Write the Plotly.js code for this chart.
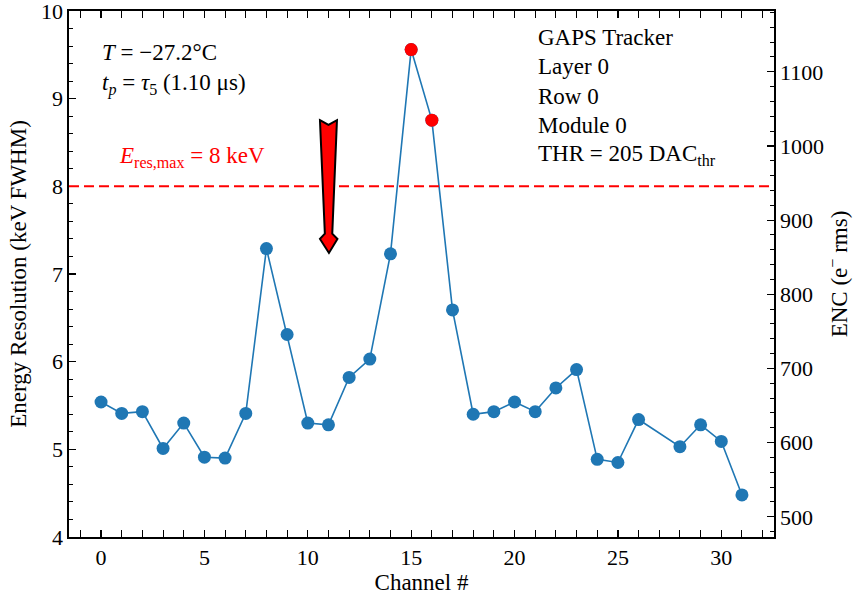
<!DOCTYPE html>
<html>
<head>
<meta charset="utf-8">
<script src="https://cdn.plot.ly/plotly-3.0.1.min.js"></script>
<style>html,body{margin:0;padding:0;background:#fff;}#chart{width:858px;height:597px;}</style>
</head>
<body>
<div id="chart"></div>
<script>
// Channel numbers (channel 27 has no data)
const channels = [0,1,2,3,4,5,6,7,8,9,10,11,12,13,14,15,16,17,18,19,20,21,22,23,24,25,26,28,29,30,31];
// Energy resolution, keV FWHM
const resolution = [5.54,5.41,5.43,5.01,5.30,4.91,4.90,5.41,7.29,6.31,5.30,5.28,5.82,6.03,7.23,9.56,8.755,6.59,5.40,5.43,5.54,5.43,5.70,5.91,4.886,4.85,5.34,5.03,5.28,5.09,4.48];
const eResMax = 8;           // keV threshold
const encPerKeV = 118.2;     // e- rms per keV FWHM
const arrowChannel = 11;
const xTickVals = [0,5,10,15,20,25,30];

const hiX = [], hiY = [];
channels.forEach((c,i)=>{ if (resolution[i] > eResMax) { hiX.push(c); hiY.push(resolution[i]); } });
const enc = resolution.map(v => v*encPerKeV);

const blue = '#1f77b4';
const fam = '"Liberation Serif", "DejaVu Serif", serif';
const font = {family:fam, size:23, color:'#000'};
const tickFont = {family:fam, size:22, color:'#000'};

const traces = [
  {x:channels, y:resolution, type:'scatter', mode:'lines+markers',
   line:{color:blue, width:1.6}, marker:{color:blue, size:13}, showlegend:false, hoverinfo:'skip'},
  {x:hiX, y:hiY, type:'scatter', mode:'markers',
   marker:{color:'#ff0000', size:13}, showlegend:false, hoverinfo:'skip'},
  {x:channels, y:enc, type:'scatter', mode:'markers', yaxis:'y2',
   marker:{opacity:0, size:1}, showlegend:false, hoverinfo:'skip'}
];

const axCommon = {showline:true, linecolor:'#000', linewidth:1.6, ticks:'inside', ticklen:7, tickwidth:1.2,
  tickcolor:'#000', showgrid:false, zeroline:false, tickfont:tickFont, ticklabeloverflow:'allow'};

const layout = {
  width:858, height:597,
  margin:{l:69, r:84, t:11, b:60},
  paper_bgcolor:'#fff', plot_bgcolor:'#fff',
  font:font,
  xaxis: Object.assign({}, axCommon, {range:[-1.55, 32.55], tickvals:xTickVals, mirror:'allticks',
    minor:{ticks:'inside', dtick:1, tick0:0, ticklen:4, tickwidth:1, tickcolor:'#000'},
    title:{text:'Channel #', font:font, standoff:4}}),
  yaxis: Object.assign({}, axCommon, {range:[4,10], dtick:1, tick0:0,
    minor:{ticks:'inside', dtick:0.2, tick0:0, ticklen:4, tickwidth:1, tickcolor:'#000'},
    title:{text:'Energy Resolution (keV FWHM)', font:font, standoff:8}}),
  yaxis2: Object.assign({}, axCommon, {range:[4*encPerKeV, 10*encPerKeV], overlaying:'y', side:'right',
    dtick:100, tick0:0,
    minor:{ticks:'inside', dtick:20, tick0:0, ticklen:4, tickwidth:1, tickcolor:'#000'},
    title:{text:'ENC (e<sup>−</sup> rms)', font:font, standoff:8}}),
  shapes:[
    {type:'line', xref:'paper', x0:0, x1:1, yref:'y', y0:eResMax, y1:eResMax,
     line:{color:'#ff0000', width:2, dash:'10px,5px'}},
    {type:'path', xref:'x', xsizemode:'pixel', xanchor:arrowChannel, yref:'y',
     path:'M -8.5,8.755 L 0,8.70 L 8.5,8.755 L 3.8,7.46 L 9,7.40 L 0.5,7.24 L -8.5,7.40 L -3.6,7.46 Z',
     fillcolor:'#ff0000', line:{color:'#000', width:2}}
  ],
  annotations:[
    {xref:'paper', yref:'paper', x:0.044, y:0.922, xanchor:'left', yanchor:'middle', showarrow:false,
     text:'<i>T</i> = −27.2°C', font:font},
    {xref:'paper', yref:'paper', x:0.044, y:0.861, xanchor:'left', yanchor:'middle', showarrow:false,
     text:'<i>t<sub>p</sub></i> = <i>τ</i><sub>5</sub> (1.10 μs)', font:font},
    {xref:'paper', yref:'paper', x:0.174, y:0.722, xanchor:'center', yanchor:'middle', showarrow:false,
     text:'<i>E</i><sub>res,max</sub> = 8 keV', font:Object.assign({}, font, {color:'#ff0000'})},
    {xref:'paper', yref:'paper', x:0.662, y:0.949, xanchor:'left', yanchor:'middle', showarrow:false, text:'GAPS Tracker', font:font},
    {xref:'paper', yref:'paper', x:0.662, y:0.894, xanchor:'left', yanchor:'middle', showarrow:false, text:'Layer 0', font:font},
    {xref:'paper', yref:'paper', x:0.662, y:0.838, xanchor:'left', yanchor:'middle', showarrow:false, text:'Row 0', font:font},
    {xref:'paper', yref:'paper', x:0.662, y:0.783, xanchor:'left', yanchor:'middle', showarrow:false, text:'Module 0', font:font},
    {xref:'paper', yref:'paper', x:0.662, y:0.726, xanchor:'left', yanchor:'middle', showarrow:false, text:'THR = 205 DAC<sub>thr</sub>', font:font}
  ]
};

Plotly.newPlot('chart', traces, layout, {staticPlot:true, displayModeBar:false});
</script>
</body>
</html>
